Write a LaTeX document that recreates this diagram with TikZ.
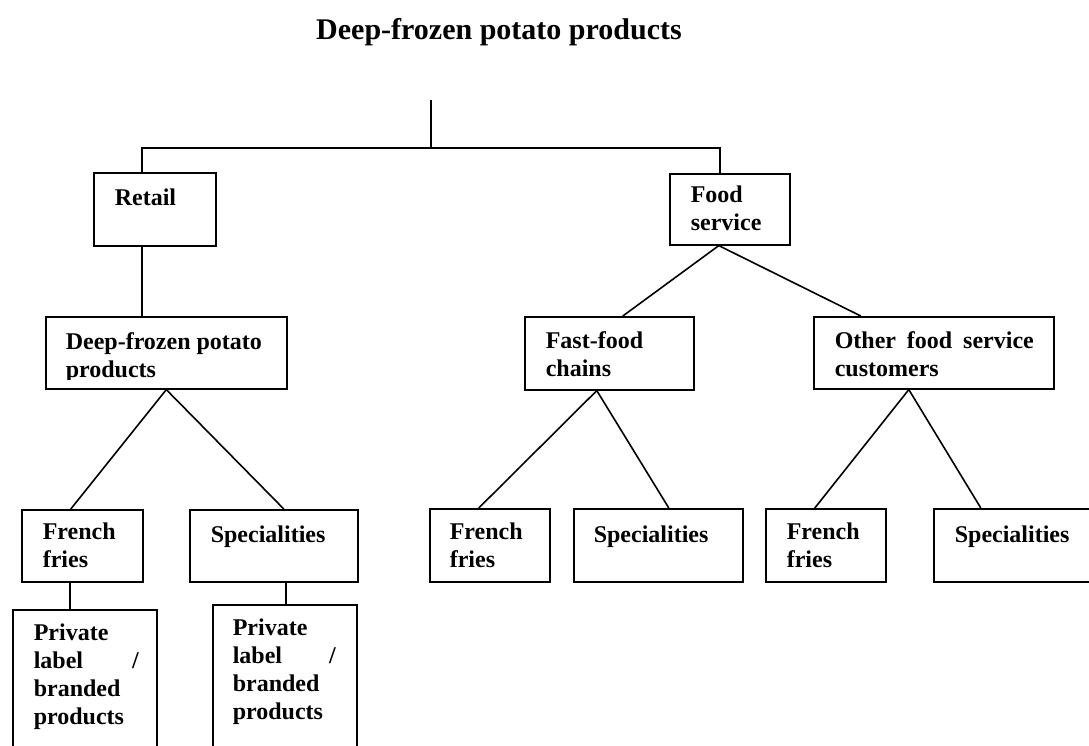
\documentclass[tikz,border=0pt]{standalone}
\usepackage{fontspec}
\setmainfont{Liberation Serif}
\begin{document}
\begin{tikzpicture}[x=1pt, y=-1pt, line width=1.6pt]
	\tikzstyle{box} = [draw, rectangle, anchor=north west, inner sep=0pt]
	\tikzstyle{txt} = [anchor=north west, inner sep=0pt, align=left, font=\bfseries\fontsize{24}{28}\selectfont, execute at begin node=\strut]
	\useasboundingbox (0,0) rectangle (1089,745);
	\node [anchor=base, inner sep=0pt, font=\bfseries\fontsize{30}{36}\selectfont] (title) at (499,39) {Deep-frozen potato products};
	% boxes
	\node [box, minimum width=122pt, minimum height=73pt] (retail) at (93,172) {};
	\node [box, minimum width=120pt, minimum height=71pt] (food) at (669,173) {};
	\node [box, minimum width=241pt, minimum height=72pt] (deep) at (45,316) {};
	\node [box, minimum width=169pt, minimum height=73pt] (fast) at (524,316) {};
	\node [box, minimum width=240pt, minimum height=72pt] (other) at (813,316) {};
	\node [box, minimum width=121pt, minimum height=72pt] (ff1) at (21,509) {};
	\node [box, minimum width=168pt, minimum height=72pt] (sp1) at (189,509) {};
	\node [box, minimum width=120pt, minimum height=73pt] (ff2) at (429,508) {};
	\node [box, minimum width=169pt, minimum height=73pt] (sp2) at (573,508) {};
	\node [box, minimum width=120pt, minimum height=73pt] (ff3) at (765,508) {};
	\node [box, minimum width=169pt, minimum height=73pt] (sp3) at (933,508) {};
	\node [box, minimum width=144pt, minimum height=160pt] (priv1) at (12,609) {};
	\node [box, minimum width=144pt, minimum height=166pt] (priv2) at (212,604) {};
	% texts
	\node [txt] (t-retail) at (114,185.4) {Retail};
	\node [txt] (t-food) at (690,185.4) {Food\\service};
	\begin{scope}
		\clip (45,316) rectangle (286,379);
		\node [txt] (t-deep) at (65,331.4) {Deep-frozen potato\\products};
	\end{scope}
	\node [txt] (t-fast) at (545,330.4) {Fast-food\\chains};
	\node [txt] (t-other) at (834,330.4) {\makebox[199pt][s]{Other food service}\\customers};
	\node [txt] (t-ff1) at (42,522.4) {French\\fries};
	\node [txt] (t-sp1) at (210,522.4) {Specialities};
	\node [txt] (t-ff2) at (449,522.4) {French\\fries};
	\node [txt] (t-sp2) at (593,522.4) {Specialities};
	\node [txt] (t-ff3) at (786,522.4) {French\\fries};
	\node [txt] (t-sp3) at (954,522.4) {Specialities};
	\node [txt] (t-priv1) at (33,623.4) {Private\\\makebox[105pt][s]{label /}\\branded\\products};
	\node [txt] (t-priv2) at (232,618.4) {Private\\\makebox[103pt][s]{label /}\\branded\\products};
	% connectors
	\coordinate (top) at (431,100);
	\coordinate (split) at (431,148);
	\draw [-] (top)--(split);
	\draw [-] (split) -| ([xshift=-13pt]retail.north);
	\draw [-] (split) -| ([xshift=-10pt]food.north);
	\draw [-] ([xshift=-13pt]retail.south)--([xshift=-13pt]retail.south |- deep.north);
	\draw [-] ([xshift=-11pt]food.south)--([xshift=13.5pt]fast.north);
	\draw [-] ([xshift=-11pt]food.south)--([xshift=-73pt]other.north);
	\draw [-] (deep.south)--([xshift=-11.5pt]ff1.north);
	\draw [-] (deep.south)--([xshift=10pt]sp1.north);
	\draw [-] ([xshift=-12.5pt]ff1.south)--([xshift=-15pt]priv1.north);
	\draw [-] ([xshift=12pt]sp1.south)--([xshift=1pt]priv2.north);
	\draw [-] ([xshift=-12.5pt]fast.south)--([xshift=-11pt]ff2.north);
	\draw [-] ([xshift=-12.5pt]fast.south)--([xshift=10.5pt]sp2.north);
	\draw [-] ([xshift=-25pt]other.south)--([xshift=-11pt]ff3.north);
	\draw [-] ([xshift=-25pt]other.south)--([xshift=-37.5pt]sp3.north);
\end{tikzpicture}
\end{document}
